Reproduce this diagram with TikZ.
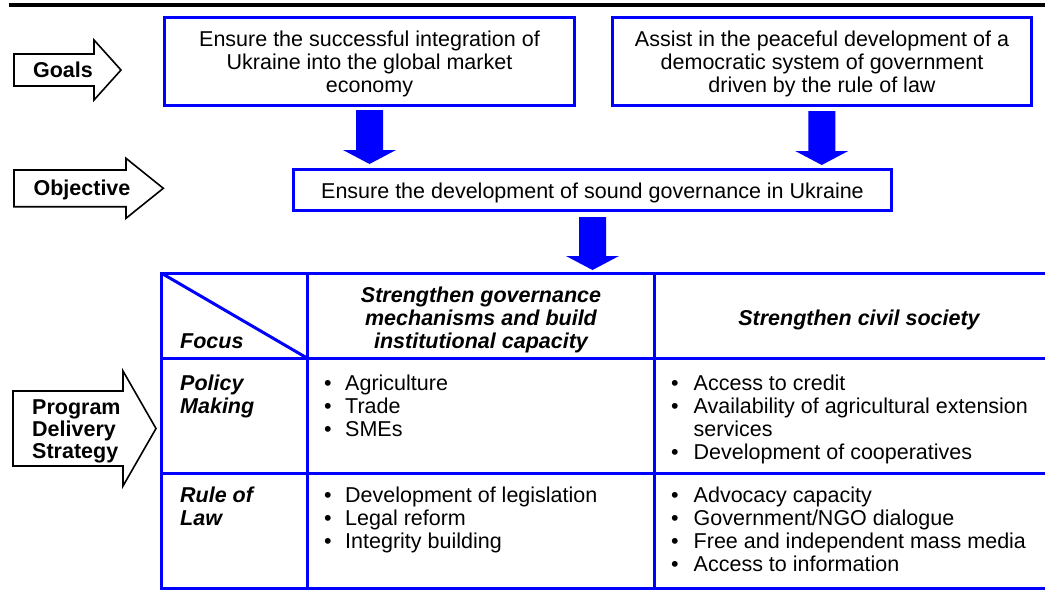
\documentclass[tikz,border=0pt]{standalone}
\usepackage{fontspec}
\setmainfont{Liberation Sans}
\usetikzlibrary{calc}
\definecolor{frameblue}{RGB}{0,0,255}

\tikzset{
  box/.style={draw=frameblue, line width=3pt, fill=white, inner sep=0pt},
  txt/.style={inner sep=0pt, font=\fontsize{21.5}{23}\selectfont},
  lbl/.style={inner sep=0pt, font=\fontsize{21.5}{22}\selectfont\bfseries},
  hdr/.style={inner sep=0pt, font=\fontsize{21.5}{23}\selectfont\bfseries\itshape},
  signpost/.style={draw=black, line width=1.6pt, fill=white, line join=miter},
  grid/.style={draw=frameblue, line width=3pt},
  blockfill/.style={fill=frameblue},
}

% Solid block arrow: #1 start of the shaft, #2 gives the height of the tip
\newcommand\blockarrow[2]{%
  \path (#1) coordinate (ba-s) (#2) coordinate (ba-t);
  \fill[blockfill] ($(ba-s)+(-13.5,0)$) -- ($(ba-s)+(13.5,0)$)
    -- ($(ba-s |- ba-t)+(13.5,-14)$) -- ($(ba-s |- ba-t)+(26.5,-14)$)
    -- (ba-s |- ba-t)
    -- ($(ba-s |- ba-t)+(-26.5,-14)$) -- ($(ba-s |- ba-t)+(-13.5,-14)$)
    -- cycle;}

\begin{document}
\begin{tikzpicture}[x=1pt,y=-1pt]
\useasboundingbox (0,0) rectangle (1045,598);
\fill[white] (0,0) rectangle (1045,598);

% rule across the top
\draw[line width=4pt] (9,5) -- (1045,5);

% level markers on the left
\draw[signpost] (14,54) -- (94,54) -- (94,40) -- (121,70) -- (94,100) -- (94,86) -- (14,86) -- cycle;
\node[lbl, anchor=base] (goals) at (63,77.4) {Goals};

\draw[signpost] (14,170) -- (126,170) -- (126,158.3) -- (163.3,188.3) -- (126,218.3) -- (126,206.7) -- (14,206.7) -- cycle;
\node[lbl, anchor=base] (objective) at (82,195.4) {Objective};

\draw[signpost] (13,391) -- (123,391) -- (123,371) -- (156,428.5) -- (123,486) -- (123,466) -- (13,466) -- cycle;
\node[lbl, anchor=base west] (pds) at (32,414) {\begin{tabular}[t]{@{}l@{}}Program\\Delivery\\Strategy\end{tabular}};

% goals
\node[box, minimum width=410pt, minimum height=88pt] (goal1) at (369.5,61.5) {};
\node[txt, anchor=base] (goal1t) at (369.5,46) {\begin{tabular}[t]{@{}c@{}}Ensure the successful integration of\\Ukraine into the global market\\economy\end{tabular}};

\node[box, minimum width=419.5pt, minimum height=88pt] (goal2) at (821.75,61.5) {};
\node[txt, anchor=base] (goal2t) at (822,46) {\begin{tabular}[t]{@{}c@{}}Assist in the peaceful development of a\\democratic system of government\\driven by the rule of law\end{tabular}};

% objective
\node[box, txt, draw=frameblue, line width=3pt, fill=white, minimum width=598pt, minimum height=41pt,
      text height=17pt, text depth=1pt] (obj) at (592.5,190)
  {Ensure the development of sound governance in Ukraine};

% table grid
\coordinate (tabtop) at (594,273.3);
\draw[grid] (1048,273.3) -- (161.7,273.3) -- (161.7,588) -- (1048,588);
\draw[grid] (161.7,358) -- (1048,358);
\draw[grid] (161.7,473.7) -- (1048,473.7);
\draw[grid] (307,273.3) -- (307,588);
\draw[grid] (654,273.3) -- (654,588);
\draw[grid] (161.7,273.3) -- (307,358);

% flow arrows
\blockarrow{[yshift=-3pt]goal1.south}{[yshift=4pt]obj.north}
\blockarrow{[yshift=-4pt]goal2.south}{[yshift=3pt]obj.north}
\blockarrow{[yshift=-5pt]obj.south}{[yshift=3.3pt]tabtop}

% table headings
\node[hdr, anchor=base west] (focus) at (180,348.5) {Focus};
\node[hdr, anchor=base] (hgov) at (481,302) {\begin{tabular}[t]{@{}c@{}}Strengthen governance\\mechanisms and build\\institutional capacity\end{tabular}};
\node[hdr, anchor=base] (hciv) at (859,325) {Strengthen civil society};
\node[hdr, anchor=base west] (rpm) at (180,390) {\begin{tabular}[t]{@{}l@{}}Policy\\Making\end{tabular}};
\node[hdr, anchor=base west] (rrl) at (180,502.5) {\begin{tabular}[t]{@{}l@{}}Rule of\\Law\end{tabular}};

% table cells
\node[txt, anchor=base west] (pmgov) at (324,390) {\begin{tabular}[t]{@{}l@{\hspace{13.5pt}}l@{}}\textbullet & Agriculture\\ \textbullet & Trade\\ \textbullet & SMEs\end{tabular}};
\node[txt, anchor=base west] (pmciv) at (671,390) {\begin{tabular}[t]{@{}l@{\hspace{15pt}}l@{}}\textbullet & Access to credit\\ \textbullet & Availability of agricultural extension\\ & services\\ \textbullet & Development of cooperatives\end{tabular}};
\node[txt, anchor=base west] (rlgov) at (324,502.5) {\begin{tabular}[t]{@{}l@{\hspace{13.5pt}}l@{}}\textbullet & Development of legislation\\ \textbullet & Legal reform\\ \textbullet & Integrity building\end{tabular}};
\node[txt, anchor=base west] (rlciv) at (671,502.5) {\begin{tabular}[t]{@{}l@{\hspace{15pt}}l@{}}\textbullet & Advocacy capacity\\ \textbullet & Government/NGO dialogue\\ \textbullet & Free and independent mass media\\ \textbullet & Access to information\end{tabular}};
\end{tikzpicture}
\end{document}
